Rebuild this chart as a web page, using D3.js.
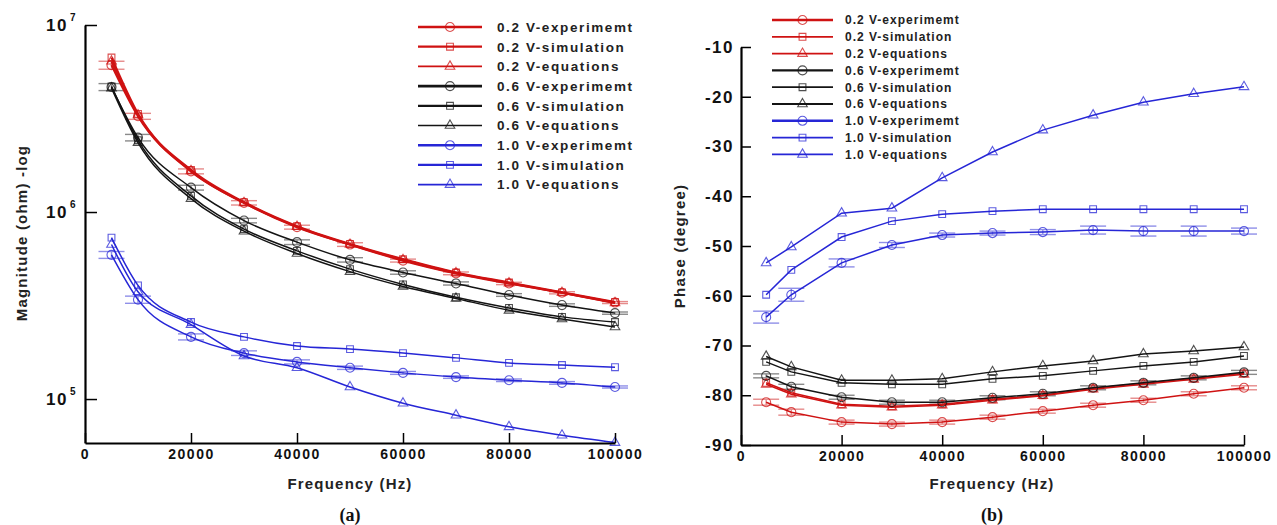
<!DOCTYPE html>
<html>
<head>
<meta charset="utf-8">
<script src="https://cdn.jsdelivr.net/npm/d3@7.9.0/dist/d3.min.js"></script>
<style>
  html, body { margin: 0; padding: 0; background: #fff; }
  svg { display: block; font-family: "Liberation Sans", Arial, sans-serif; }
</style>
</head>
<body>
<svg id="chart" width="1277" height="525"></svg>
<script>
// frequency points (Hz)
const freq = [5000, 10000, 20000, 30000, 40000, 50000, 60000, 70000, 80000, 90000, 100000];

// (a) magnitude, ohm
const mag02Exp = [6.1e6, 3.25e6, 1.65e6, 1.12e6, 8.3e5, 6.7e5, 5.5e5, 4.7e5, 4.15e5, 3.7e5, 3.28e5];
const mag02Sim = [6.7e6, 3.35e6, 1.68e6, 1.13e6, 8.4e5, 6.75e5, 5.6e5, 4.75e5, 4.2e5, 3.72e5, 3.3e5];
const mag02Eq = [6.4e6, 3.3e6, 1.66e6, 1.12e6, 8.35e5, 6.7e5, 5.55e5, 4.72e5, 4.17e5, 3.7e5, 3.27e5];
const mag06Exp = [4.66e6, 2.5e6, 1.35e6, 9.0e5, 6.9e5, 5.55e5, 4.75e5, 4.15e5, 3.6e5, 3.18e5, 2.88e5];
const mag06Sim = [4.7e6, 2.42e6, 1.22e6, 8.1e5, 6.2e5, 4.95e5, 4.1e5, 3.5e5, 3.07e5, 2.75e5, 2.58e5];
const mag06Eq = [4.6e6, 2.35e6, 1.18e6, 7.9e5, 6.0e5, 4.8e5, 4.0e5, 3.45e5, 2.98e5, 2.68e5, 2.43e5];
const mag10Exp = [5.9e5, 3.4e5, 2.15e5, 1.76e5, 1.58e5, 1.47e5, 1.38e5, 1.31e5, 1.26e5, 1.22e5, 1.16e5];
const mag10Sim = [7.3e5, 4.05e5, 2.58e5, 2.15e5, 1.92e5, 1.85e5, 1.76e5, 1.66e5, 1.56e5, 1.52e5, 1.48e5];
const mag10Eq = [6.7e5, 3.75e5, 2.5e5, 1.7e5, 1.47e5, 1.16e5, 9.5e4, 8.2e4, 7.1e4, 6.4e4, 5.85e4];
// experiment error (+/-), ohm
const mag02Err = [3e5, 1.2e5, 5e4, 3e4, 2e4, 1.5e4, 1e4, 8e3, 6e3, 5e3, 4e3];
const mag06Err = [2e5, 1e5, 4e4, 2.5e4, 2e4, 1.5e4, 1e4, 8e3, 6e3, 5e3, 4e3];
const mag10Err = [2.5e4, 1.5e4, 8e3, 5e3, 4e3, 3e3, 2.5e3, 2e3, 2e3, 2e3, 1.5e3];

// (b) phase, degree
const ph02Exp = [-81.4, -83.4, -85.4, -85.8, -85.4, -84.4, -83.2, -82.0, -81.0, -79.7, -78.5];
const ph02Sim = [-77.5, -79.5, -81.8, -82.2, -81.8, -80.8, -80.0, -78.6, -77.6, -76.6, -75.6];
const ph02Eq = [-77.8, -79.8, -82.0, -82.4, -82.0, -81.0, -80.1, -78.8, -77.8, -76.8, -75.8];
const ph06Exp = [-76.1, -78.3, -80.4, -81.4, -81.4, -80.5, -79.7, -78.5, -77.5, -76.5, -75.4];
const ph06Sim = [-73.3, -75.3, -77.5, -77.8, -77.8, -76.7, -76.1, -75.1, -74.1, -73.3, -72.1];
const ph06Eq = [-72.2, -74.3, -77.0, -77.0, -76.7, -75.3, -74.1, -73.1, -71.7, -71.1, -70.3];
const ph10Exp = [-64.3, -59.8, -53.4, -49.8, -47.8, -47.4, -47.2, -46.8, -47.0, -47.0, -47.0];
const ph10Sim = [-59.8, -54.8, -48.2, -45.0, -43.6, -43.0, -42.6, -42.6, -42.6, -42.6, -42.6];
const ph10Eq = [-53.4, -50.2, -43.4, -42.4, -36.3, -31.1, -26.7, -23.7, -21.1, -19.4, -18.0];
const ph02Err = [0.6, 0.6, 0.4, 0.4, 0.4, 0.4, 0.4, 0.4, 0.4, 0.4, 0.4];
const ph06Err = [0.4, 0.5, 0.4, 0.4, 0.4, 0.4, 0.4, 0.4, 0.4, 0.4, 0.4];
const ph10Err = [1.2, 1.3, 0.8, 0.5, 0.4, 0.4, 0.5, 0.8, 1.0, 1.0, 0.6];

const legendLabels = [
  "0.2 V-experimemt", "0.2 V-simulation", "0.2 V-equations",
  "0.6 V-experimemt", "0.6 V-simulation", "0.6 V-equations",
  "1.0 V-experimemt", "1.0 V-simulation", "1.0 V-equations",
];

const red = "#cf1212", black = "#141414", blue = "#2626d6";
const errColor = { [red]: "#e68a8a", [black]: "#8a8a8a", [blue]: "#8f8fe8" };

const svg = d3.select("#chart");

function makeSeries(values, color, marker, err) {
  return { values, color, marker, err };
}

const magSeries = [
  makeSeries(mag02Exp, red, "circle", mag02Err),
  makeSeries(mag02Sim, red, "square"),
  makeSeries(mag02Eq, red, "triangle"),
  makeSeries(mag06Exp, black, "circle", mag06Err),
  makeSeries(mag06Sim, black, "square"),
  makeSeries(mag06Eq, black, "triangle"),
  makeSeries(mag10Exp, blue, "circle", mag10Err),
  makeSeries(mag10Sim, blue, "square"),
  makeSeries(mag10Eq, blue, "triangle"),
];
const phSeries = [
  makeSeries(ph02Exp, red, "circle", ph02Err),
  makeSeries(ph02Sim, red, "square"),
  makeSeries(ph02Eq, red, "triangle"),
  makeSeries(ph06Exp, black, "circle", ph06Err),
  makeSeries(ph06Sim, black, "square"),
  makeSeries(ph06Eq, black, "triangle"),
  makeSeries(ph10Exp, blue, "circle", ph10Err),
  makeSeries(ph10Sim, blue, "square"),
  makeSeries(ph10Eq, blue, "triangle"),
];

const symbols = {
  circle: d3.symbol(d3.symbolCircle, 64),
  square: d3.symbol(d3.symbolSquare, 46),
  triangle: d3.symbol(d3.symbolTriangle, 40),
};

function drawMarker(g, x, y, s) {
  g.append("path")
    .attr("d", symbols[s.marker]())
    .attr("transform", `translate(${x},${y})`)
    .attr("fill", "none")
    .attr("stroke", s.color)
    .attr("stroke-opacity", 0.75)
    .attr("stroke-width", 1.1);
}

function drawPanel(opts) {
  const { x, y, series, curve, lineWidth } = opts;
  const g = svg.append("g");

  const line = d3.line()
    .x((d, i) => x(freq[i]))
    .y((d) => y(d))
    .curve(curve);

  series.forEach((s) => {
    if (s.err) {
      const eg = g.append("g").attr("stroke", errColor[s.color]).attr("stroke-width", 1.4);
      s.values.forEach((v, i) => {
        const cx = x(freq[i]);
        const y1 = y(v + s.err[i]), y2 = y(v - s.err[i]);
        eg.append("line").attr("x1", cx).attr("x2", cx).attr("y1", y1).attr("y2", y2);
        eg.append("line").attr("x1", cx - 13).attr("x2", cx + 13).attr("y1", y1).attr("y2", y1);
        eg.append("line").attr("x1", cx - 13).attr("x2", cx + 13).attr("y1", y2).attr("y2", y2);
      });
    }
  });

  series.forEach((s) => {
    g.append("path")
      .datum(s.values)
      .attr("d", line)
      .attr("fill", "none")
      .attr("stroke", s.color)
      .attr("stroke-width", lineWidth(s));
    s.values.forEach((v, i) => drawMarker(g, x(freq[i]), y(v), s));
  });
}

function drawXAxis(x, yPos) {
  const g = svg.append("g").attr("transform", `translate(0,${yPos})`);
  g.call(d3.axisBottom(x).tickValues(d3.range(0, 100001, 5000)).tickSize(-5).tickFormat("").tickSizeOuter(0));
  g.call(d3.axisBottom(x).tickValues(d3.range(0, 100001, 20000)).tickSize(-10).tickSizeOuter(0)
    .tickPadding(6).tickFormat(d3.format("d")));
  g.selectAll(".domain").attr("stroke-width", 2.2);
  g.selectAll(".tick line").attr("stroke-width", 1.5);
  g.selectAll("text")
    .attr("font-size", 14).attr("font-weight", "bold").attr("fill", "#111")
    .attr("letter-spacing", 1.5).attr("font-family", "'Liberation Sans', Arial, sans-serif");
}

// ---------- panel (a) ----------
const xA = d3.scaleLinear().domain([0, 100000]).range([85, 615]);
const yA = d3.scaleLog().domain([5.82e4, 1e7]).range([443, 25]);

drawPanel({
  x: xA, y: yA, series: magSeries,
  curve: d3.curveMonotoneX,
  lineWidth: (s) => (s.color === red ? 2.2 : 1.5),
});

const minorA = [];
[1e4, 1e5, 1e6].forEach((dec) => {
  for (let k = 2; k <= 9; k++) if (k * dec >= 5.82e4) minorA.push(k * dec);
});
const yAxisA = svg.append("g").attr("transform", "translate(85,0)");
yAxisA.call(d3.axisLeft(yA).tickValues(minorA).tickSize(-6).tickFormat("").tickSizeOuter(0));
yAxisA.call(d3.axisLeft(yA).tickValues([1e5, 1e6, 1e7]).tickSize(-12).tickFormat("").tickSizeOuter(0));
yAxisA.selectAll(".domain").attr("stroke-width", 2.2);
yAxisA.selectAll(".tick line").attr("stroke-width", 1.5);

[5, 6, 7].forEach((p) => {
  svg.append("text")
    .attr("x", 68).attr("y", yA(Math.pow(10, p)) + 6)
    .attr("text-anchor", "end")
    .attr("font-size", 17).attr("font-weight", "bold").attr("letter-spacing", 1.5).attr("fill", "#111")
    .text("10");
  svg.append("text")
    .attr("x", 70).attr("y", yA(Math.pow(10, p)) - 4)
    .attr("font-size", 10).attr("font-weight", "bold").attr("fill", "#111")
    .text(p);
});

drawXAxis(xA, 443);

svg.append("text")
  .attr("transform", "translate(27,233) rotate(-90)")
  .attr("text-anchor", "middle")
  .attr("font-size", 15).attr("font-weight", "bold").attr("letter-spacing", 1.2).attr("fill", "#222")
  .text("Magnitude (ohm) -log");
svg.append("text")
  .attr("x", 350).attr("y", 489)
  .attr("text-anchor", "middle")
  .attr("font-size", 15).attr("font-weight", "bold").attr("letter-spacing", 1.2).attr("fill", "#222")
  .text("Frequency (Hz)");
svg.append("text")
  .attr("x", 350).attr("y", 521)
  .attr("text-anchor", "middle")
  .attr("font-family", "'Liberation Serif', 'Times New Roman', serif")
  .attr("font-size", 18).attr("font-weight", "bold").attr("fill", "#111")
  .text("(a)");

// ---------- panel (b) ----------
const xB = d3.scaleLinear().domain([0, 100000]).range([741, 1244]);
const yB = d3.scaleLinear().domain([-90, -10]).range([445, 47]);

drawPanel({
  x: xB, y: yB, series: phSeries,
  curve: d3.curveLinear,
  lineWidth: () => 1.5,
});

const yAxisB = svg.append("g").attr("transform", "translate(741,0)");
yAxisB.call(d3.axisLeft(yB).tickValues(d3.range(-90, -9, 2)).tickSize(-5).tickFormat("").tickSizeOuter(0));
yAxisB.call(d3.axisLeft(yB).tickValues(d3.range(-90, -9, 10)).tickSize(-10).tickSizeOuter(0)
  .tickPadding(7).tickFormat((d) => String(d)));
yAxisB.selectAll(".domain").attr("stroke-width", 2.2);
yAxisB.selectAll(".tick line").attr("stroke-width", 1.5);
yAxisB.selectAll("text")
  .attr("font-size", 17).attr("font-weight", "bold").attr("letter-spacing", 1.5).attr("fill", "#111")
  .attr("font-family", "'Liberation Sans', Arial, sans-serif");

drawXAxis(xB, 445);

svg.append("text")
  .attr("transform", "translate(685,246) rotate(-90)")
  .attr("text-anchor", "middle")
  .attr("font-size", 15).attr("font-weight", "bold").attr("letter-spacing", 1.2).attr("fill", "#222")
  .text("Phase (degree)");
svg.append("text")
  .attr("x", 992).attr("y", 489)
  .attr("text-anchor", "middle")
  .attr("font-size", 15).attr("font-weight", "bold").attr("letter-spacing", 1.2).attr("fill", "#222")
  .text("Frequency (Hz)");
svg.append("text")
  .attr("x", 992).attr("y", 521)
  .attr("text-anchor", "middle")
  .attr("font-family", "'Liberation Serif', 'Times New Roman', serif")
  .attr("font-size", 18).attr("font-weight", "bold").attr("fill", "#111")
  .text("(b)");

// ---------- legends ----------
function drawLegend(series, x0, x1, textX, y0, step, fontSize, spacing, lw) {
  const g = svg.append("g");
  series.forEach((s, i) => {
    const yy = y0 + i * step;
    g.append("line")
      .attr("x1", x0).attr("x2", x1).attr("y1", yy).attr("y2", yy)
      .attr("stroke", s.color).attr("stroke-width", lw(s));
    drawMarker(g, (x0 + x1) / 2, yy, s);
    g.append("text")
      .attr("x", textX).attr("y", yy + fontSize * 0.36)
      .attr("font-size", fontSize).attr("font-weight", "bold")
      .attr("letter-spacing", spacing).attr("fill", "#222")
      .text(legendLabels[i]);
  });
}

drawLegend(magSeries, 418, 482, 497, 27, 19.7, 13.5, 1.6,
  (s) => (s.marker === "circle" ? 2.6 : s.marker === "square" ? 2.2 : 1.6));
drawLegend(phSeries, 772, 833, 845, 20, 16.8, 12, 1,
  (s) => (s.marker === "circle" ? 2.4 : 1.8));
</script>
</body>
</html>
